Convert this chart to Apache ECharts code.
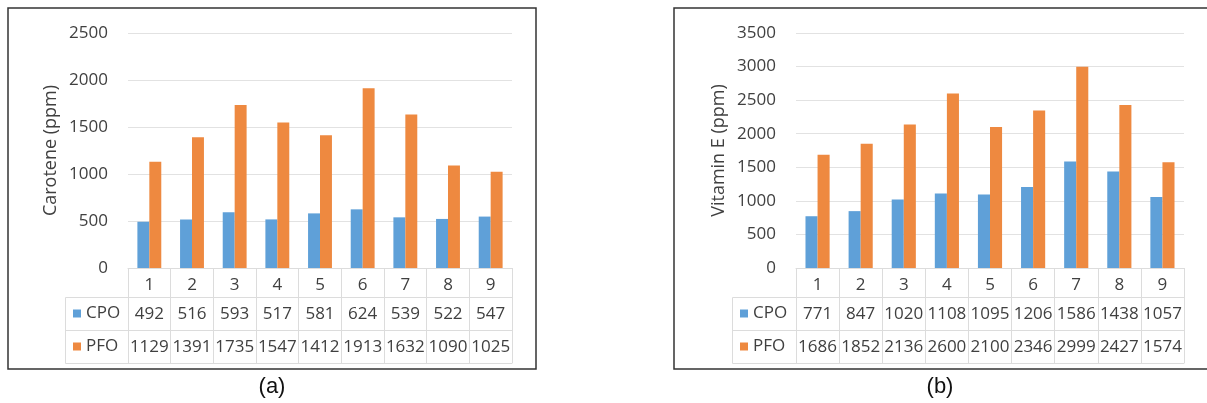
<!DOCTYPE html>
<html>
<head>
<meta charset="utf-8">
<title>Carotene and Vitamin E content of CPO and PFO</title>
<script src="https://cdn.jsdelivr.net/npm/echarts@6/dist/echarts.min.js"></script>
<style>
  html, body { margin: 0; padding: 0; background: #ffffff; }
  #chart { width: 1207px; height: 403px; }
</style>
</head>
<body>
<div id="chart"></div>
<script>
// Sample numbers shown on the category axis
const categories = ['1', '2', '3', '4', '5', '6', '7', '8', '9'];

// Panel (a): carotene, ppm
const caroteneCPO = [492, 516, 593, 517, 581, 624, 539, 522, 547];
const carotenePFO = [1129, 1391, 1735, 1547, 1412, 1913, 1632, 1090, 1025];

// Panel (b): vitamin E, ppm
const vitaminECPO = [771, 847, 1020, 1108, 1095, 1206, 1586, 1438, 1057];
const vitaminEPFO = [1686, 1852, 2136, 2600, 2100, 2346, 2999, 2427, 1574];

// Value axis ranges
const caroteneAxis = { max: 2500, step: 500 };
const vitaminEAxis = { max: 3500, step: 500 };

const seriesNames = ['CPO', 'PFO'];
const BLUE = '#5FA0D8';
const ORANGE = '#EE8940';
const TEXT = '#404040';
const RULE = '#dcdcdc';
const FONT = '"Open Sans", "DejaVu Sans", sans-serif';

// Page layout of the two panels (pixels)
const panels = [
  { title: 'Carotene (ppm)', caption: '(a)', cpo: caroteneCPO, pfo: carotenePFO, axis: caroteneAxis,
    plotLeft: 128, plotRight: 512, plotTop: 33, plotBottom: 268, tableLeft: 65,
    box: [8, 8, 528, 361], captionX: 272 },
  { title: 'Vitamin E (ppm)', caption: '(b)', cpo: vitaminECPO, pfo: vitaminEPFO, axis: vitaminEAxis,
    plotLeft: 796, plotRight: 1184, plotTop: 33, plotBottom: 268, tableLeft: 732,
    box: [674, 8, 545, 361], captionX: 940 }
];

// Data table rows under each plot: header, CPO, PFO
const rowHeader = 29, rowValue = 33;
const W = 1207, H = 403;

const grid = [], xAxis = [], yAxis = [], series = [], legend = [], graphic = [];

panels.forEach((p, g) => {
  grid.push({ left: p.plotLeft, right: W - p.plotRight, top: p.plotTop, bottom: H - p.plotBottom, containLabel: false });

  yAxis.push({
    type: 'value', gridIndex: g, min: 0, max: p.axis.max, interval: p.axis.step,
    axisLine: { show: false }, axisTick: { show: false },
    axisLabel: { fontFamily: FONT, fontSize: 17, color: TEXT, margin: 20, formatter: v => String(v) },
    splitLine: { lineStyle: { color: '#e2e2e2', width: 1.2 } },
    name: p.title, nameLocation: 'middle', nameRotate: 90, nameGap: 68,
    nameTextStyle: { fontFamily: FONT, fontSize: 18, color: TEXT }
  });

  const base = xAxis.length;
  // Category row of the table (axis line is the table's top edge)
  xAxis.push({
    type: 'category', gridIndex: g, data: categories, position: 'bottom',
    axisLine: { show: true, lineStyle: { color: RULE, width: 1 } },
    axisTick: { show: true, length: rowHeader, lineStyle: { color: RULE } },
    axisLabel: { interval: 0, fontFamily: FONT, fontSize: 17, color: TEXT, margin: 17, verticalAlign: 'middle' }
  });
  // Value rows of the table
  [p.cpo, p.pfo].forEach((vals, r) => {
    xAxis.push({
      type: 'category', gridIndex: g, data: categories, position: 'bottom',
      offset: rowHeader + r * rowValue,
      axisLine: { show: true, lineStyle: { color: RULE, width: 1 } },
      axisTick: { show: true, length: rowValue, lineStyle: { color: RULE } },
      axisLabel: { interval: 0, fontFamily: FONT, fontSize: 17, color: TEXT, margin: 17, verticalAlign: 'middle',
        formatter: (v, i) => String(vals[i]) },
      splitLine: { show: false }
    });
  });
  // Bottom edge of the table
  xAxis.push({
    type: 'category', gridIndex: g, data: categories, position: 'bottom',
    offset: rowHeader + 2 * rowValue,
    axisLine: { show: true, lineStyle: { color: RULE, width: 1 } },
    axisTick: { show: false }, axisLabel: { show: false }
  });

  series.push({
    name: seriesNames[0], type: 'bar', xAxisIndex: base, yAxisIndex: g, data: p.cpo,
    itemStyle: { color: BLUE }, barGap: '0%', barCategoryGap: '44%'
  });
  series.push({
    name: seriesNames[1], type: 'bar', xAxisIndex: base, yAxisIndex: g, data: p.pfo,
    itemStyle: { color: ORANGE }, barGap: '0%', barCategoryGap: '44%'
  });

  // Series key in the table's first column
  const row1Top = p.plotBottom + rowHeader;
  legend.push({
    data: seriesNames, orient: 'vertical', left: p.tableLeft + 8, top: row1Top + (rowValue - 17) / 2,
    icon: 'rect', itemWidth: 8, itemHeight: 8, itemGap: rowValue - 17, padding: 0, selectedMode: false,
    textStyle: { fontFamily: FONT, fontSize: 17, lineHeight: 17, color: TEXT }
  });

  // Borders of the table's key column
  const keyLines = [
    [p.tableLeft, row1Top, p.plotLeft, row1Top],
    [p.tableLeft, row1Top + rowValue, p.plotLeft, row1Top + rowValue],
    [p.tableLeft, row1Top + 2 * rowValue, p.plotLeft, row1Top + 2 * rowValue],
    [p.tableLeft, row1Top, p.tableLeft, row1Top + 2 * rowValue]
  ];
  keyLines.forEach(([x1, y1, x2, y2]) => {
    graphic.push({ type: 'line', shape: { x1: x1 + 0.5, y1: y1 + 0.5, x2: x2 + 0.5, y2: y2 + 0.5 },
      style: { stroke: RULE, lineWidth: 1 }, silent: true });
  });

  // Frame around the panel
  const [bx, by, bw, bh] = p.box;
  graphic.push({ type: 'rect', shape: { x: bx, y: by, width: bw, height: bh },
    style: { fill: null, stroke: '#333333', lineWidth: 1.5 }, silent: true });

  // Panel caption
  graphic.push({ type: 'text', x: p.captionX, y: 387,
    style: { text: p.caption, fontFamily: '"Liberation Sans", Arial, sans-serif', fontSize: 22,
      fill: '#111111', align: 'center', verticalAlign: 'middle' }, silent: true });
});

const chart = echarts.init(document.getElementById('chart'), null, { renderer: 'canvas' });
chart.setOption({
  animation: false,
  backgroundColor: '#ffffff',
  grid, xAxis, yAxis, series, legend, graphic
});
</script>
</body>
</html>
